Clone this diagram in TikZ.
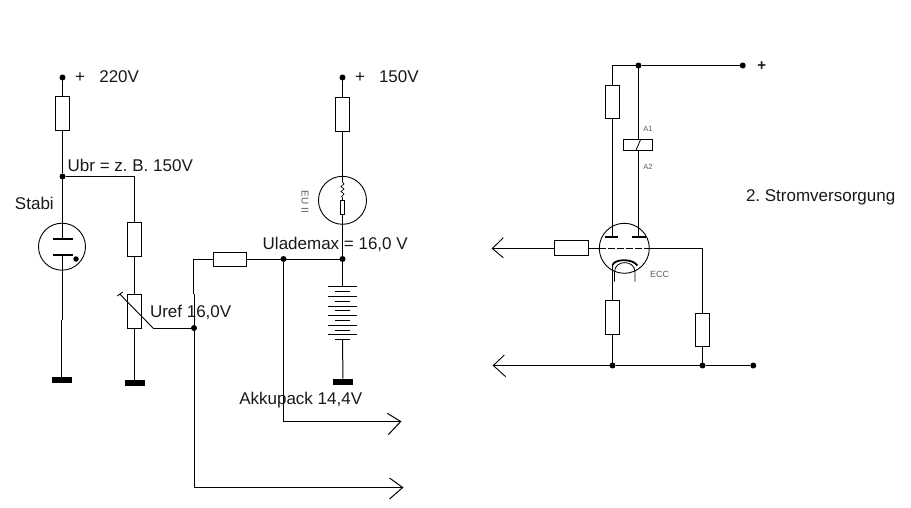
\documentclass[tikz,border=0pt]{standalone}
\usepackage{fontspec}
\setmainfont{Liberation Sans}
\frenchspacing
\definecolor{smalltxt}{gray}{0.35}
\tikzset{
  wire/.style={line width=1pt,black},
  res/.style={draw=black,line width=1pt,fill=white,rectangle,inner sep=0pt,outer sep=0pt,minimum width=#1},
  res/.default=14pt,
  tube/.style={draw=black,line width=0.9pt,circle,inner sep=0pt,outer sep=0pt,minimum size=#1},
  jdot/.style={fill=black,circle,inner sep=0pt,outer sep=0pt,minimum size=6pt},
  gnd/.style={fill=black,rectangle,inner sep=0pt,outer sep=0pt,minimum width=20pt,minimum height=6pt},
  lab/.style={anchor=base west,inner sep=0pt,outer sep=0pt,text=black!90,font=\fontsize{17}{19}\selectfont},
  tiny/.style={inner sep=0pt,outer sep=0pt,text=smalltxt,font=\fontsize{#1}{#1}\selectfont},
  plate/.style={line width=2pt,black}
}
\begin{document}
\begin{tikzpicture}[x=1pt,y=-1pt]
\useasboundingbox (0,0) rectangle (911,508);
% ---------- left branch
\node[jdot] (d1) at (62.5,77.5) {};
\node[res,minimum height=34pt] (r1) at (62.5,113.5) {};
\node[jdot] (d2) at (62.5,176.5) {};
\node[tube=47pt] (stabi) at (62,246.7) {};
\node[gnd] (g1) at (62,380) {};
\node[jdot,minimum size=5.5pt] (sd) at (76,259) {};
\coordinate (pa) at (62.5,239);
\coordinate (pb) at (62.5,255);
\coordinate (kink1) at (62.5,320);
\coordinate (kink2) at (61.5,320);
\coordinate (g1t) at (61.5,378);
\draw[wire] (d1) -- (r1.north) (r1.south) -- (d2) -- (pa);
\draw[wire] (pb) -- (kink1) (kink2) -- (g1t);
\draw[plate] (53.3,239) -- (72.7,239) (53.3,255) -- (72.7,255);
% ---------- divider
\coordinate (c1) at (134.5,176.5);
\node[res,minimum height=34pt] (r2) at (134.5,239.5) {};
\node[res,minimum height=34pt] (pot) at (134.5,311.5) {};
\node[gnd] (g2) at (134.5,383) {};
\draw[wire] (d2) -- (c1) -- (r2.north) (r2.south) -- (pot.north) (pot.south) -- (g2);
\node[jdot] (d3) at (194,328) {};
\coordinate (w1) at (120,294.3);
\coordinate (w2) at (153.5,328.5);
\coordinate (t1) at (117.3,296);
\coordinate (t2) at (122.7,292);
\draw[wire,line width=0.9pt] (t1) -- (t2) (w1) -- (w2) -- (d3.center |- w2) -- (d3);
% ---------- charge resistor, output lines
\node[res=33pt,minimum height=14pt] (r3) at (230,259.5) {};
\node[jdot] (d4) at (283.5,259) {};
\node[jdot] (d5) at (342.5,259) {};
\coordinate (c2) at (193.5,259.5);
\coordinate (c2b) at (193.5,294);
\coordinate (c2c) at (194.5,294);
\coordinate (c3) at (194.5,487.5);
\coordinate (a2) at (402.7,487.5);
\coordinate (a2u) at (389.5,478);
\coordinate (a2d) at (389.5,499);
\coordinate (c4) at (283.5,421.5);
\coordinate (a1) at (400.7,421.5);
\coordinate (a1u) at (387.3,413.3);
\coordinate (a1d) at (388.3,434.7);
\draw[wire] (r3.west) -- (c2) -- (c2b) (c2c) -- (c3) -- (a2);
\draw[wire] (a2u) -- (a2) -- (a2d);
\draw[wire] (r3.east) -- (d5.center |- r3.east);
\draw[wire] (d4) -- (c4) -- (a1);
\draw[wire] (a1u) -- (a1) -- (a1d);
% ---------- 150 V branch
\node[jdot] (d6) at (342.5,77.5) {};
\node[res,minimum height=34pt] (r4) at (342.5,114.5) {};
\node[tube=48pt] (eu) at (342.5,200.3) {};
\node[res=4pt,minimum height=14pt] (r5) at (342.5,207.5) {};
\coordinate (z1) at (342.5,176.5);
\coordinate (z2) at (342.5,182);
\coordinate (b0) at (342.5,286);
\coordinate (b1) at (342.5,339.3);
\node[gnd] (g3) at (343,381.7) {};
\draw[wire] (d6) -- (r4.north) (r4.south) -- (z1) -- (z2);
\draw[line width=0.7pt] (z2) -- (344,184) -- (341,186.5) -- (344,189) -- (341,191.5) -- (344,194) -- (341.7,196.5) -- (342.5,198) -- (r5.north);
\draw[wire] (r5.south) -- (d5) -- (b0);
\draw[wire] (b1) -- (g3);
\foreach \y in {286.5,296.5,306.5,315.5,325.5,334.5} \draw[wire] (328,\y) -- (357,\y);
\foreach \y in {291.5,301.5,310.5,320.5,330.5,339.5} \draw[wire] (335,\y) -- (350,\y);
% ---------- right circuit
\node[jdot] (d7) at (638.5,65.5) {};
\node[jdot] (d8) at (742.7,65.5) {};
\coordinate (c5) at (612.5,65.5);
\node[res,minimum height=33pt] (r6) at (612.5,102) {};
\node[res=29pt,minimum height=11pt] (coil) at (638,145) {};
\node[tube=50pt] (ecc) at (624.3,248.3) {};
\coordinate (pl) at (612.5,236.7);
\coordinate (pr) at (638.5,236.7);
\draw[wire] (c5) -- (d7) -- (d8);
\draw[wire] (c5) -- (r6.north) (r6.south) -- (pl);
\draw[wire] (d7) -- (d7 |- coil.north) (d7 |- coil.south) -- (pr);
\draw[line width=0.8pt] (636,150.3) -- (640.7,139.3);
\draw[plate] (605,237) -- (617.7,237) (632.3,237) -- (645.7,237);
% grid
\coordinate (a3) at (492.3,248.5);
\coordinate (a3u) at (503.3,237.7);
\coordinate (a3d) at (503.3,257.7);
\node[res=34pt,minimum height=15pt] (r7) at (571.5,248) {};
\coordinate (gl) at (599.3,248.5);
\coordinate (gr) at (649.3,248.5);
\coordinate (c6) at (702.5,248.5);
\node[res,minimum height=33pt] (r8) at (702.5,330) {};
\draw[wire] (a3) -- (r7.west |- a3) (r7.east |- gl) -- (gl);
\draw[wire,line width=0.9pt] (a3u) -- (a3) -- (a3d);
\draw[wire,dash pattern=on 6.5pt off 2.5pt] (gl) -- (gr);
\draw[wire] (gr) -- (c6) -- (r8.north);
% cathode
\node[res,minimum height=34pt] (r9) at (612.5,317.5) {};
\coordinate (k) at (612.5,265);
\draw[wire] (k) -- (r9.north);
\draw[line width=1.8pt] (k) .. controls (615,258.5) and (633,258.5) .. (637.3,265.5);
\draw[line width=0.8pt] (614.5,281.7) -- (614.5,272) .. controls (614.5,259.5) and (635,259.5) .. (635,272) -- (635,281.7);
% bottom rail
\coordinate (a4) at (493.3,365.5);
\coordinate (a4u) at (504.3,355);
\coordinate (a4d) at (505.7,376.7);
\node[jdot] (d9) at (612.5,365.5) {};
\node[jdot] (d10) at (702.5,365.5) {};
\node[jdot] (d11) at (753.3,365.5) {};
\draw[wire] (a4) -- (d9) -- (d10) -- (d11);
\draw[wire,line width=0.9pt] (a4u) -- (a4) -- (a4d);
\draw[wire] (r9.south) -- (d9);
\draw[wire] (r8.south) -- (d10);
% ---------- labels
\node[lab,anchor=base] (t1a) at (80,82.5) {+};
\node[lab] (t1b) at (99.3,82.5) {220V};
\node[lab] (t2) at (67.7,171.5) {Ubr = z. B. 150V};
\node[lab] (t3) at (15,210) {Stabi};
\node[lab] (t4) at (150,317.5) {Uref 16,0V};
\node[lab,anchor=base] (t5a) at (360,82.5) {+};
\node[lab] (t5b) at (379,82.5) {150V};
\node[lab] (t6) at (262.7,249) {Ulademax = 16,0 V};
\node[lab] (t7) at (239.3,404) {Akkupack 14,4V};
\node[lab] (t8) at (746,202) {2. Stromversorgung};
\node[lab,anchor=base,font=\fontsize{15}{16}\selectfont\bfseries] (t9) at (761.7,70.5) {+};
\node[tiny=10,rotate=-90] (t10) at (305,201.7) {EU II};
\node[tiny=7.5] (t11) at (648,129) {A1};
\node[tiny=7.5] (t12) at (648,167) {A2};
\node[tiny=9,anchor=base west] (t13) at (650,277.7) {ECC};
\end{tikzpicture}
\end{document}
